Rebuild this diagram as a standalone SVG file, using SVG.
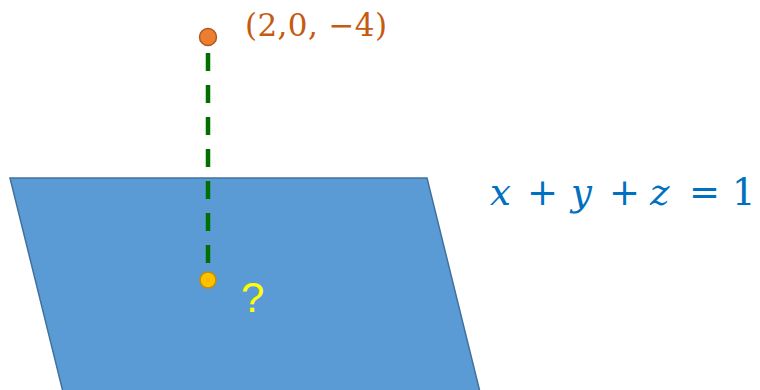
<svg xmlns="http://www.w3.org/2000/svg" width="760" height="390" viewBox="0 0 760 390">
<style>
.plane{fill:#5B9BD5;stroke:#41719C;stroke-width:1.5}
.pt-top{fill:#ED7D31;stroke:#AE5A21;stroke-width:1.5}
.pt-bot{fill:#FFC000;stroke:#BF9000;stroke-width:1.5}
.dash{stroke:#007000;stroke-width:4.5;stroke-dasharray:18 14;fill:none}
.eq{font-family:"DejaVu Serif","Liberation Serif",serif;font-size:37px;fill:#0070C0}
.it{font-style:italic}
</style>
<rect width="760" height="390" fill="#ffffff"/>
<g id="plane">
<polygon class="plane" points="10,178 427,178 480,392 63,392"/>
</g>
<g id="connectors">
<line class="dash" x1="208" y1="53" x2="208" y2="263"/>
</g>
<g id="point-top">
<circle class="pt-top" cx="208" cy="37" r="8.5"/>
<text x="245" y="36" font-family="DejaVu Serif, Liberation Serif, serif" font-size="31" fill="#C55A11" textLength="142" lengthAdjust="spacing">(2,0, −4)</text>
</g>
<g id="point-bottom">
<circle class="pt-bot" cx="208" cy="280" r="8"/>
<text x="241" y="312" font-family="Liberation Sans, sans-serif" font-size="42" fill="#FFFF00">?</text>
</g>
<g id="equation">
<text class="eq it" x="490" y="205">x</text>
<text class="eq" x="527" y="205">+</text>
<text class="eq it" x="571" y="205">y</text>
<text class="eq" x="609" y="205">+</text>
<text class="eq it" x="650" y="205">z</text>
<text class="eq" x="689" y="205">=</text>
<text class="eq" x="732" y="205">1</text>
</g>
</svg>
